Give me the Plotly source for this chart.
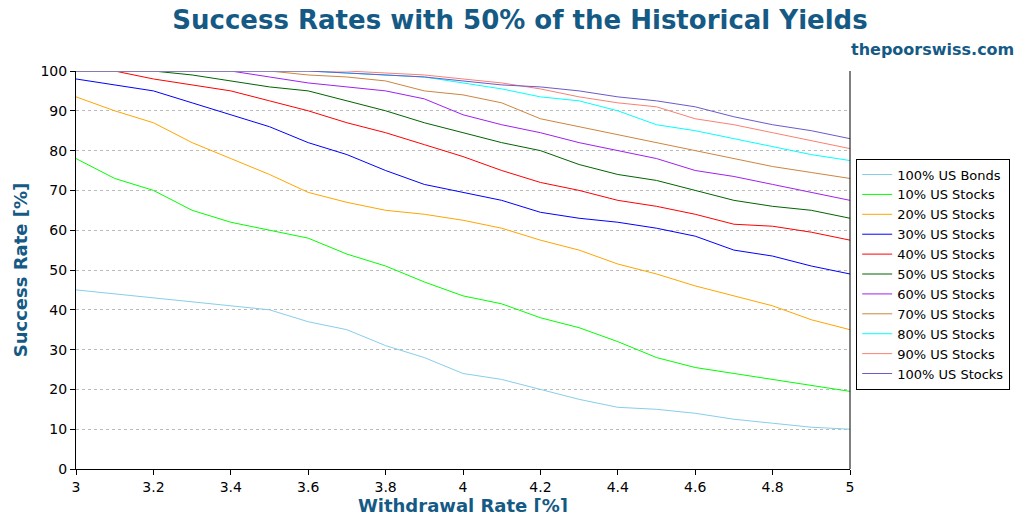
import plotly.graph_objects as go

rates = [3.0,3.1,3.2,3.3,3.4,3.5,3.6,3.7,3.8,3.9,4.0,4.1,4.2,4.3,4.4,4.5,4.6,4.7,4.8,4.9,5.0]
names = ["100% US Bonds","10% US Stocks","20% US Stocks","30% US Stocks","40% US Stocks",
         "50% US Stocks","60% US Stocks","70% US Stocks","80% US Stocks","90% US Stocks","100% US Stocks"]
colors = ["#87ceeb","#00ff00","#ffa500","#0000ff","#ff0000","#006400","#a020f0","#cd853f","#00ffff","#fa8072","#6a5acd"]
s_bonds = [45,44,43,42,41,40,37,35,31,28,24,22.5,20,17.5,15.5,15,14,12.5,11.5,10.5,10]
s_10 = [78,73,70,65,62,60,58,54,51,47,43.5,41.5,38,35.5,32,28,25.5,24,22.5,21,19.5]
s_20 = [93.5,90,87,82,78,74,69.5,67,65,64,62.5,60.5,57.5,55,51.5,49,46,43.5,41,37.5,35]
s_30 = [98,96.5,95,92,89,86,82,79,75,71.5,69.5,67.5,64.5,63,62,60.5,58.5,55,53.5,51,49]
s_40 = [100,100,98,96.5,95,92.5,90,87,84.5,81.5,78.5,75,72,70,67.5,66,64,61.5,61,59.5,57.5]
s_50 = [100,100,100,99,97.5,96,95,92.5,90,87,84.5,82,80,76.5,74,72.5,70,67.5,66,65,63]
s_60 = [100,100,100,100,100,98.5,97,96,95,93,89,86.5,84.5,82,80,78,75,73.5,71.5,69.5,67.5]
s_70 = [100,100,100,100,100,100,99,98.5,97.5,95,94,92,88,86,84,82,80,78,76,74.5,73]
s_80 = [100,100,100,100,100,100,100,99.5,99,98.5,97,95.5,93.5,92.5,90,86.5,85,83,81,79,77.5]
s_90 = [100,100,100,100,100,100,100,100,99.5,99,98,97,95.5,93.5,92,91,88,86.5,84.5,82.5,80.5]
s_100 = [100,100,100,100,100,100,100,99.5,99,98.5,97.5,96.5,96,95,93.5,92.5,91,88.5,86.5,85,83]
series = [s_bonds,s_10,s_20,s_30,s_40,s_50,s_60,s_70,s_80,s_90,s_100]

fig = go.Figure()
for n, c, s in zip(names, colors, series):
    fig.add_trace(go.Scatter(x=rates, y=s, name=n, mode="lines", line=dict(color=c, width=1)))

blue = "#155a85"
fig.update_layout(
    width=1024, height=512, plot_bgcolor="white", paper_bgcolor="white",
    margin=dict(l=68, r=182, t=63, b=51, autoexpand=False),
    font=dict(family="DejaVu Sans", size=14, color="black"),
    title=dict(text="<b>Success Rates with 50% of the Historical Yields</b>", x=0.5, xanchor="center",
               y=0.995, yanchor="top", font=dict(size=26, color=blue)),
    annotations=[dict(text="<b>thepoorswiss.com</b>", xref="paper", yref="paper", x=1.215, y=1.025,
                      xanchor="right", yanchor="bottom", showarrow=False, font=dict(size=16, color=blue))],
    legend=dict(x=1.008, y=0.78, xanchor="left", yanchor="top", bordercolor="black", borderwidth=1,
                font=dict(size=13), tracegroupgap=0, itemwidth=30),
    xaxis=dict(range=[3,5], dtick=0.2, showgrid=False, showline=True, linecolor="black", ticks="outside",
               tickcolor="black", zeroline=False, automargin=False,
               title=dict(text="<b>Withdrawal Rate [%]</b>", font=dict(size=18, color=blue), standoff=0)),
    yaxis=dict(range=[0,100], dtick=10, showgrid=True, gridcolor="#bbbbbb", griddash="dot",
               showline=True, linecolor="black", ticks="outside", tickcolor="black", zeroline=False,
               automargin=False,
               title=dict(text="<b>Success Rate [%]</b>", font=dict(size=18, color=blue), standoff=8)),
)
fig.add_shape(type="line", xref="paper", yref="paper", x0=1, x1=1, y0=0, y1=1, line=dict(color="black", width=1))
fig.write_html("out.html")
